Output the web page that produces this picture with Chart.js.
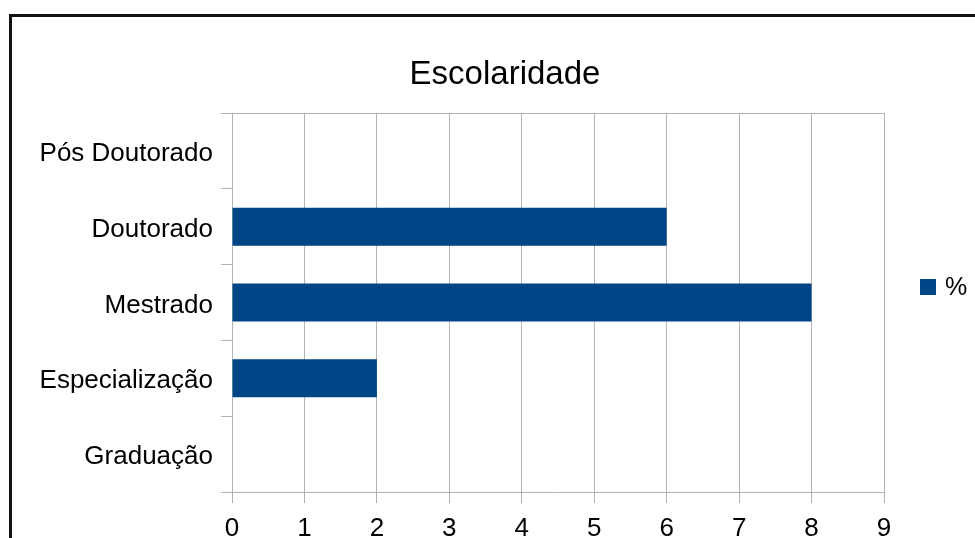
<!DOCTYPE html>
<html>
<head>
<meta charset="utf-8">
<title>Escolaridade</title>
<script src="https://cdn.jsdelivr.net/npm/chart.js@4/dist/chart.umd.min.js"></script>
<style>
  html, body { margin: 0; padding: 0; background: #fff; overflow: hidden; }
  #wrap { position: relative; width: 975px; height: 538px; overflow: hidden; }
  #frame {
    position: absolute; left: 9px; top: 14px; width: 2000px; height: 2000px;
    border: 3px solid #111; pointer-events: none;
  }
</style>
</head>
<body>
<div id="wrap">
  <canvas id="chart" width="975" height="580"></canvas>
  <div id="frame"></div>
</div>
<script>
// -----------------------
// Data
// -----------------------
const chartTitle = 'Escolaridade';
const categories = ['Pós Doutorado', 'Doutorado', 'Mestrado', 'Especialização', 'Graduação'];
const percent = [0, 6, 8, 2, 0];
const seriesLabel = '%';
const xMin = 0, xMax = 9, xStep = 1;

const BAR = '#004586';
const GRID = '#b3b3b3';
const FONT = '"Liberation Sans", Arial, sans-serif';

Chart.defaults.font.family = FONT;
Chart.defaults.color = '#000';

// title + legend drawn by hand, placed like the original
const decorations = {
  id: 'decorations',
  afterDraw(chart) {
    const ctx = chart.ctx;
    const ds = chart.data.datasets[0];
    ctx.save();
    ctx.fillStyle = '#000';
    ctx.font = '33px ' + FONT;
    ctx.textAlign = 'center';
    ctx.textBaseline = 'alphabetic';
    ctx.fillText(chartTitle, 505, 84);

    ctx.fillStyle = ds.backgroundColor;
    ctx.fillRect(920, 279, 16, 16);
    ctx.fillStyle = '#000';
    ctx.font = '25px ' + FONT;
    ctx.textBaseline = 'middle';
    ctx.textAlign = 'left';
    ctx.fillText(ds.label, 945, 288);
    ctx.restore();
  }
};

new Chart(document.getElementById('chart'), {
  type: 'bar',
  data: {
    labels: categories,
    datasets: [{
      label: seriesLabel,
      data: percent,
      backgroundColor: BAR,
      borderWidth: 0,
      categoryPercentage: 1,
      barPercentage: 0.5
    }]
  },
  options: {
    indexAxis: 'y',
    responsive: false,
    animation: false,
    layout: { padding: { left: 0, right: 91, top: 113, bottom: 0 } },
    plugins: {
      legend: { display: false },
      tooltip: { enabled: false },
      title: { display: false }
    },
    scales: {
      x: {
        min: xMin,
        max: xMax,
        ticks: { stepSize: xStep, padding: 10, font: { size: 26 }, color: '#000' },
        grid: { color: GRID, tickColor: GRID, tickLength: 11, lineWidth: 1 },
        border: { display: true, color: GRID },
        afterFit(scale) { scale.height = 88; }
      },
      y: {
        offset: true,
        ticks: { padding: 8, labelOffset: 3, font: { size: 26 }, color: '#000' },
        grid: {
          offset: true,
          drawOnChartArea: true,
          color: c => c.index === 0 ? GRID : 'rgba(0,0,0,0)',
          tickColor: GRID,
          tickLength: 11
        },
        border: { display: true, color: GRID },
        afterFit(scale) { scale.width = 232; }
      }
    }
  },
  plugins: [decorations]
});
</script>
</body>
</html>
